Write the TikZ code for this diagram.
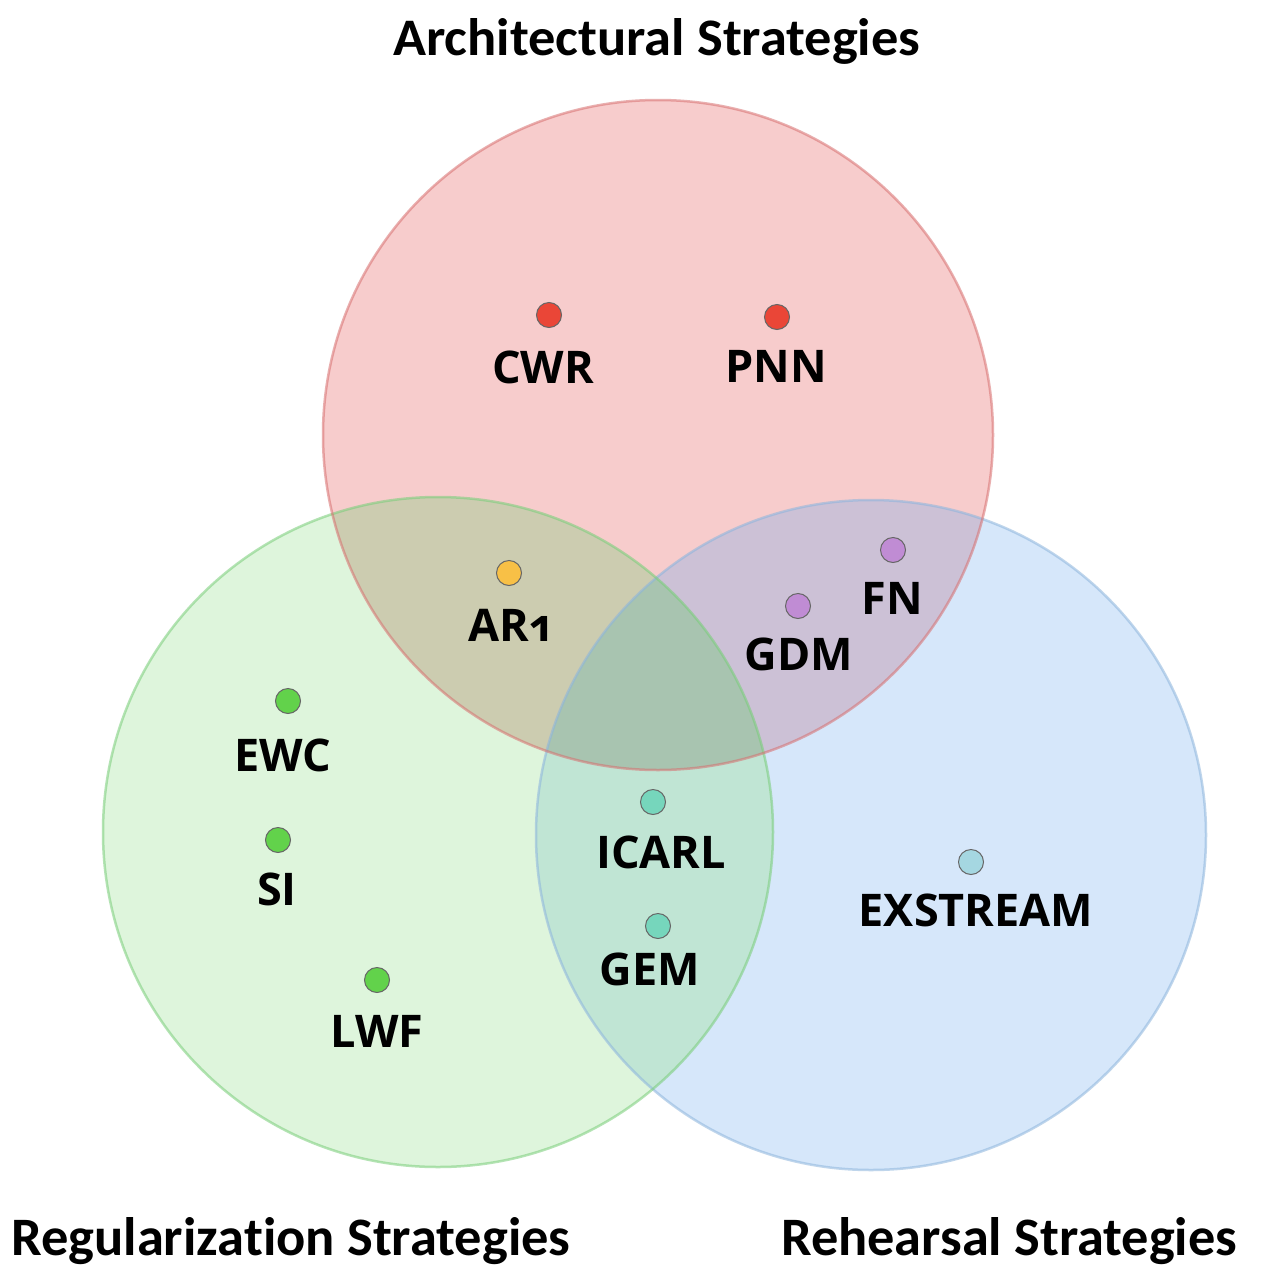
\documentclass[tikz,border=0pt]{standalone}
\usepackage{fontspec}
\setmainfont{Open Sans}
\newfontfamily\labfont{Open Sans Bold}[Numbers=OldStyle]
\newfontfamily\titfont{Carlito}[BoldFont={Carlito Bold}, Ligatures=NoCommon]
\definecolor{ronly}{RGB}{247,204,204}
\definecolor{gonly}{RGB}{222,245,220}
\definecolor{bonly}{RGB}{214,231,250}
\definecolor{rg}{RGB}{204,204,176}
\definecolor{rb}{RGB}{204,193,214}
\definecolor{gb}{RGB}{192,229,212}
\definecolor{rgb}{RGB}{168,196,176}
\definecolor{rline}{RGB}{215,110,110}
\definecolor{gline}{RGB}{120,205,120}
\definecolor{bline}{RGB}{140,180,220}
\definecolor{dred}{RGB}{234,70,55}
\definecolor{dyel}{RGB}{248,192,70}
\definecolor{dpur}{RGB}{192,140,212}
\definecolor{dgrn}{RGB}{98,210,75}
\definecolor{dteal}{RGB}{118,214,188}
\definecolor{dblu}{RGB}{165,215,225}
\tikzset{
  dot/.style={circle, minimum size=25pt, inner sep=0pt, draw=black!60, line width=1pt},
  lab/.style={font=\labfont\fontsize{45}{50}\selectfont, anchor=base, inner sep=0pt},
  tit/.style={inner sep=0pt, anchor=base west},
  rim/.style={line width=2.5pt, draw opacity=0.55}
}
\begin{document}
\begin{tikzpicture}[x=1pt,y=-1pt]
\useasboundingbox (0,0) rectangle (1270,1288);
\fill[white] (0,0) rectangle (1270,1288);
\def\Rc{(658,435) circle (335)}
\def\Gc{(438,832) circle (335)}
\def\Bc{(871,835) circle (335)}
\fill[ronly] \Rc;
\fill[gonly] \Gc;
\fill[bonly] \Bc;
\begin{scope}
  \clip \Rc;
  \fill[rg] \Gc;
  \fill[rb] \Bc;
\end{scope}
\begin{scope}
  \clip \Gc;
  \fill[gb] \Bc;
\end{scope}
\begin{scope}
  \clip \Rc;
  \clip \Gc;
  \fill[rgb] \Bc;
\end{scope}
\draw[rim, draw=bline] \Bc;
\draw[rim, draw=gline] \Gc;
\draw[rim, draw=rline] \Rc;

% titles
\node[tit] (tA) at (393,55) {\resizebox{527pt}{37pt}{\titfont\bfseries Architectural Strategies}};
\node[tit] (tG) at (11,1255) {\resizebox{559pt}{38pt}{\titfont\bfseries Regularization Strategies}};
\node[tit] (tR) at (781,1255) {\resizebox{456pt}{38pt}{\titfont\bfseries Rehearsal Strategies}};

% dots
\node[dot, fill=dred] (dCWR) at (549,315) {};
\node[dot, fill=dred] (dPNN) at (777,317) {};
\node[dot, fill=dyel] (dAR) at (509,573) {};
\node[dot, fill=dpur] (dFN) at (893,550) {};
\node[dot, fill=dpur] (dGDM) at (798,606) {};
\node[dot, fill=dgrn] (dEWC) at (288,701) {};
\node[dot, fill=dgrn] (dSI) at (278,840) {};
\node[dot, fill=dgrn] (dLWF) at (377,980) {};
\node[dot, fill=dteal] (dICARL) at (653,802) {};
\node[dot, fill=dteal] (dGEM) at (658,926) {};
\node[dot, fill=dblu] (dEX) at (971,862) {};

% labels
\node[lab] (lCWR) at (543,383) {CWR};
\node[lab] (lPNN) at (776,382) {PNN};
\node[lab] (lAR) at (510,641) {AR1};
\node[lab] (lFN) at (892,614) {FN};
\node[lab] (lGDM) at (799,670) {GDM};
\node[lab] (lEWC) at (283,771) {EWC};
\node[lab] (lSI) at (277,905) {SI};
\node[lab] (lLWF) at (377,1047) {LWF};
\node[lab] (lICARL) at (661,868) {ICARL};
\node[lab] (lGEM) at (650,985) {GEM};
\node[lab] (lEX) at (976,926) {EXSTREAM};
\end{tikzpicture}
\end{document}
